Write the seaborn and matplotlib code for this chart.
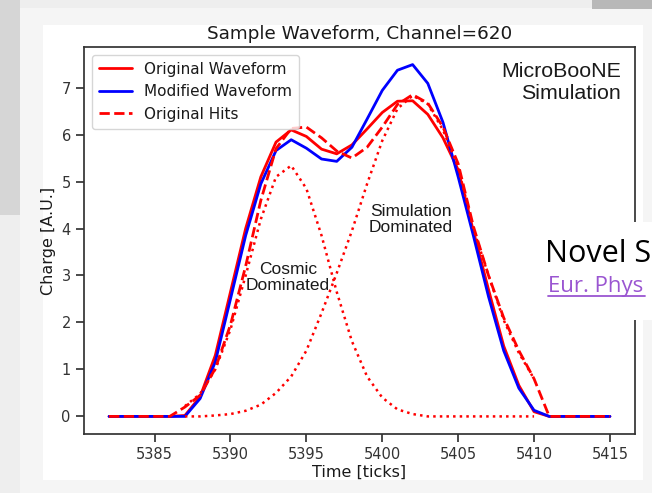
import matplotlib
matplotlib.use("Agg")
import matplotlib.pyplot as plt
import seaborn as sns
from matplotlib.patches import Rectangle
from matplotlib.lines import Line2D

# time ticks for the full waveform
ticks = list(range(5382, 5416))
original = [0, 0, 0, 0, 0, 0.02, 0.42, 1.3, 2.65, 4.0, 5.1, 5.84, 6.1, 5.96, 5.69, 5.59, 5.78,
            6.12, 6.47, 6.71, 6.72, 6.43, 5.93, 5.25, 3.95, 2.7, 1.5, 0.66, 0.1, 0, 0, 0, 0, 0]
modified = [0, 0, 0, 0, 0, 0, 0.38, 1.16, 2.5, 3.85, 4.95, 5.66, 5.89, 5.71, 5.48, 5.43, 5.73,
            6.33, 6.94, 7.37, 7.49, 7.09, 6.26, 5.1, 3.85, 2.55, 1.4, 0.6, 0.13, 0, 0, 0, 0, 0]
hits = [0, 0, 0, 0, 0, 0.2, 0.45, 1.02, 1.95, 3.2, 4.6, 5.7, 6.13, 6.16, 5.93, 5.65, 5.5,
        5.73, 6.16, 6.64, 6.85, 6.67, 6.16, 5.38, 4.05, 3.0, 2.1, 1.4, 0.8, 0, 0, 0, 0, 0]

# individual hit shapes (hit window only)
hit_ticks = list(range(5387, 5411))
cosmic_hit = [0.22, 0.48, 1.0, 1.85, 3.0, 4.2, 5.1, 5.34, 4.85, 3.85, 2.65, 1.6, 0.85, 0.4,
              0.15, 0.05, 0, 0, 0, 0, 0, 0, 0, 0]
sim_hit = [0, 0, 0.02, 0.05, 0.12, 0.25, 0.5, 0.85, 1.4, 2.2, 3.05, 3.95, 4.95, 5.87, 6.55,
           6.83, 6.65, 6.1, 5.3, 4.0, 3.0, 2.05, 1.35, 0.8]

W, H = 652, 493

sns.set_theme(style="ticks", rc={"axes.edgecolor": "0.2", "xtick.color": "0.2",
                                 "ytick.color": "0.2", "text.color": "0.1",
                                 "axes.labelcolor": "0.1"})
plt.rcParams["font.family"] = ["DejaVu Sans"]

fig = plt.figure(figsize=(W / 100, H / 100), dpi=100, facecolor="#eeeeee")


def fr(x0, y0, x1, y1, color, z=-10):
    # rectangle given in image pixels
    fig.add_artist(Rectangle((x0 / W, 1 - y1 / H), (x1 - x0) / W, (y1 - y0) / H,
                             transform=fig.transFigure, facecolor=color, edgecolor="none",
                             zorder=z))


# slide background pieces
fr(0, 0, 20, 215, "#d6d6d6")
fr(20, 8, 652, 493, "#f5f5f5")
fr(43, 25, 643, 480, "white")
fr(592, 0, 652, 9, "#b8b8b8")

ax = fig.add_axes([84 / W, 1 - 434 / H, (635 - 84) / W, (434 - 47) / H])
ax.set_facecolor("white")

sns.lineplot(x=ticks, y=original, color="red", lw=2, ax=ax, label="Original Waveform")
sns.lineplot(x=ticks, y=modified, color="blue", lw=2, ax=ax, label="Modified Waveform")
sns.lineplot(x=ticks, y=hits, color="red", lw=2, linestyle="--", ax=ax, label="Original Hits")
sns.lineplot(x=hit_ticks, y=cosmic_hit, color="red", lw=1.8, linestyle=":", ax=ax)
sns.lineplot(x=hit_ticks, y=sim_hit, color="red", lw=1.8, linestyle=":", ax=ax)

ax.set_xticks([5385, 5390, 5395, 5400, 5405, 5410, 5415])
ax.set_yticks(range(0, 8))
ax.tick_params(labelsize=10.5)
ax.set_title("Sample Waveform, Channel=620", fontsize=13.2)
ax.set_xlabel("Time [ticks]", fontsize=11.5, labelpad=2)
ax.set_ylabel("Charge [A.U.]", fontsize=11.5)

ax.legend(handles=ax.lines[:3], loc="upper left", fontsize=11, frameon=True,
          borderpad=0.45, handlelength=2.2)

ax.text(0.975, 0.962, "MicroBooNE\nSimulation", transform=ax.transAxes, ha="right", va="top",
        fontsize=15.4, family="Liberation Sans", linespacing=1.2)
ax.text(5393.8, 2.96, "Cosmic\nDominated", ha="center", va="center", fontsize=12.5,
        family="Liberation Sans", linespacing=1.1)
ax.text(5401.9, 4.2, "Simulation\nDominated", ha="center", va="center", fontsize=12.5,
        family="Liberation Sans", linespacing=1.1)

# overlapping slide text box
fr(540, 222, 652, 320, "white", z=10)
fig.text(545 / W, 1 - 262 / H, "Novel S", fontsize=22, family="Open Sans", color="black",
         zorder=11)
fig.text(548 / W, 1 - 292 / H, "Eur. Phys", fontsize=16, family="Open Sans", color="#9a55d1",
         zorder=11)
fig.add_artist(Line2D([548 / W, 645 / W], [1 - 296 / H, 1 - 296 / H], transform=fig.transFigure,
                      color="#9a55d1", lw=1.3, zorder=11))

fig.savefig("out.png", dpi=100, facecolor=fig.get_facecolor())
